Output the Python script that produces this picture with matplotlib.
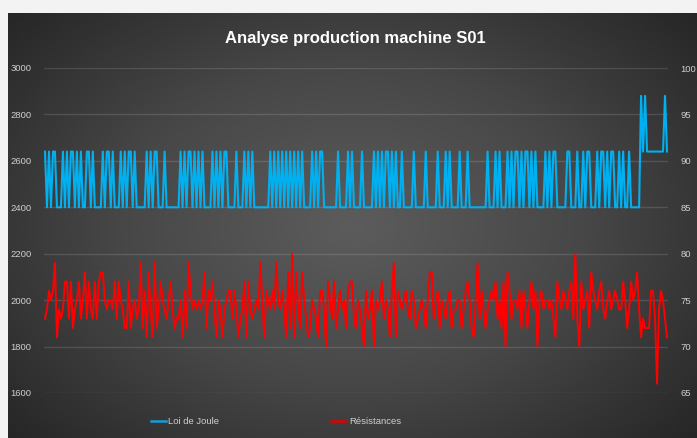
import numpy as np
import matplotlib.pyplot as plt
from matplotlib.colors import LinearSegmentedColormap

# Loi de Joule (left axis), one value per sample
joule = [
    2640, 2400, 2640, 2400, 2640, 2640, 2400, 2400, 2400, 2640, 2400, 2640, 2400,
    2640, 2640, 2400, 2640, 2400, 2640, 2400, 2400, 2640, 2640, 2400, 2640, 2400,
    2400, 2400, 2400, 2640, 2400, 2640, 2640, 2400, 2640, 2400, 2400, 2400, 2640,
    2400, 2640, 2400, 2640, 2640, 2400, 2640, 2400, 2400, 2400, 2400, 2400, 2640,
    2400, 2640, 2400, 2640, 2640, 2400, 2400, 2400, 2640, 2400, 2400, 2400, 2400,
    2400, 2400, 2400, 2640, 2400, 2640, 2400, 2640, 2640, 2400, 2640, 2400, 2640,
    2400, 2640, 2400, 2400, 2400, 2400, 2640, 2400, 2640, 2400, 2640, 2400, 2640,
    2640, 2400, 2400, 2400, 2400, 2640, 2400, 2400, 2400, 2640, 2400, 2640, 2400,
    2640, 2400, 2400, 2400, 2400, 2400, 2400, 2400, 2400, 2640, 2400, 2640, 2400,
    2640, 2400, 2640, 2400, 2640, 2400, 2640, 2400, 2640, 2400, 2640, 2400, 2640,
    2400, 2400, 2400, 2400, 2640, 2400, 2640, 2400, 2640, 2640, 2400, 2400, 2400,
    2400, 2400, 2400, 2400, 2640, 2400, 2400, 2400, 2400, 2640, 2400, 2640, 2400,
    2400, 2400, 2400, 2640, 2400, 2400, 2400, 2400, 2400, 2640, 2400, 2640, 2400,
    2640, 2400, 2640, 2640, 2400, 2640, 2400, 2640, 2400, 2400, 2640, 2400, 2400,
    2400, 2400, 2400, 2640, 2400, 2400, 2400, 2400, 2400, 2640, 2400, 2400, 2400,
    2400, 2400, 2640, 2400, 2400, 2400, 2640, 2400, 2640, 2400, 2400, 2400, 2400,
    2640, 2400, 2400, 2400, 2640, 2400, 2400, 2400, 2400, 2400, 2400, 2400, 2400,
    2400, 2640, 2400, 2400, 2400, 2640, 2400, 2640, 2400, 2400, 2400, 2640, 2400,
    2640, 2400, 2640, 2640, 2400, 2640, 2400, 2640, 2640, 2400, 2640, 2400, 2640,
    2400, 2400, 2400, 2400, 2640, 2400, 2640, 2400, 2640, 2640, 2400, 2400, 2400,
    2400, 2400, 2640, 2640, 2400, 2400, 2400, 2640, 2400, 2400, 2640, 2400, 2640,
    2640, 2400, 2400, 2400, 2640, 2400, 2640, 2640, 2400, 2640, 2400, 2640, 2640,
    2400, 2400, 2640, 2400, 2640, 2400, 2400, 2640, 2400, 2400, 2400, 2400, 2400,
    2880, 2640, 2880, 2640, 2640, 2640, 2640, 2640, 2640, 2640, 2640, 2640, 2880,
    2640,
]

# Résistances (right axis)
resistances = [
    73, 74, 76, 75, 76, 79, 71, 74, 73, 74, 77, 77, 73,
    77, 72, 74, 75, 77, 73, 75, 78, 73, 77, 74, 73, 77,
    73, 77, 78, 78, 75, 74, 75, 75, 74, 77, 73, 77, 75,
    74, 72, 72, 77, 72, 74, 75, 73, 74, 79, 72, 76, 71,
    78, 74, 71, 79, 72, 74, 77, 75, 74, 73, 75, 77, 74,
    72, 73, 73, 75, 71, 76, 72, 79, 76, 74, 75, 74, 75,
    74, 75, 78, 72, 76, 75, 77, 74, 71, 75, 74, 71, 74,
    75, 76, 76, 73, 76, 74, 71, 73, 74, 77, 71, 77, 74,
    73, 74, 75, 74, 79, 75, 71, 76, 75, 74, 76, 74, 79,
    75, 74, 76, 74, 71, 78, 72, 80, 71, 78, 74, 72, 78,
    75, 73, 71, 72, 75, 74, 73, 71, 76, 76, 74, 70, 77,
    75, 73, 77, 72, 74, 76, 74, 75, 72, 76, 77, 77, 73,
    72, 75, 74, 72, 70, 76, 73, 74, 76, 70, 75, 74, 75,
    77, 73, 75, 74, 71, 76, 79, 71, 76, 75, 74, 75, 76,
    74, 73, 76, 75, 72, 73, 74, 75, 74, 72, 75, 78, 78,
    73, 75, 76, 72, 75, 74, 73, 75, 76, 72, 74, 74, 75,
    75, 72, 74, 76, 77, 75, 72, 71, 75, 79, 73, 76, 74,
    72, 74, 75, 76, 75, 77, 73, 75, 72, 77, 70, 78, 76,
    73, 75, 75, 74, 76, 72, 76, 74, 72, 75, 77, 74, 76,
    70, 75, 76, 74, 75, 75, 74, 75, 73, 71, 77, 75, 74,
    76, 75, 74, 76, 77, 73, 80, 73, 70, 77, 74, 75, 76,
    72, 78, 76, 75, 74, 76, 77, 74, 73, 75, 76, 74, 75,
    76, 75, 74, 74, 77, 75, 72, 74, 77, 75, 76, 78, 74,
    71, 73, 72, 72, 72, 76, 76, 73, 66, 74, 76, 75, 73,
    71,
]

left_ticks = [1600, 1800, 2000, 2200, 2400, 2600, 2800, 3000]
right_ticks = [65, 70, 75, 80, 85, 90, 95, 100]

W, H = 697, 438
fig = plt.figure(figsize=(W / 100, H / 100), dpi=100)
fig.patch.set_facecolor('#f3f3f3')

# dark radial background of the chart block
bg = fig.add_axes([8 / W, 0, (W - 8) / W, (H - 13) / H], zorder=0)
yy, xx = np.mgrid[-1:1:220j, -1:1:340j]
rr = np.sqrt((xx * 1.0) ** 2 + (yy * 0.9) ** 2)
cmap = LinearSegmentedColormap.from_list('bg', ['#5c5c5c', '#474747', '#262626'])
bg.imshow(rr, cmap=cmap, vmin=0, vmax=1.35, aspect='auto',
          extent=[0, 1, 0, 1], interpolation='bilinear')
bg.set_axis_off()

ax = fig.add_axes([44 / W, 1 - 393 / H, 624 / W, 325 / H], zorder=1)
ax.patch.set_alpha(0)
ax2 = ax.twinx()

x = np.arange(len(joule))
ax.plot(x, joule, color='#00b0f0', lw=1.5)
ax2.plot(x, resistances, color='#ff0000', lw=1.4)

ax.set_xlim(-0.5, len(joule) - 0.5)
ax.set_ylim(1600, 3000)
ax2.set_ylim(65, 100)
ax.set_yticks(left_ticks)
ax2.set_yticks(right_ticks)
ax.set_xticks([])

font = ['Liberation Sans', 'DejaVu Sans']
for a in (ax, ax2):
    for s in a.spines.values():
        s.set_visible(False)
    a.tick_params(length=0, colors='#d0d0d0', labelsize=6.8)
    for lab in a.get_yticklabels():
        lab.set_family(font)
ax.tick_params(axis='y', pad=9)
ax2.tick_params(axis='y', pad=9)
ax.grid(axis='y', color='#ffffff', alpha=0.13, lw=1)
ax.set_axisbelow(True)

fig.text(355 / W, 1 - 38 / H, 'Analyse production machine S01', color='white',
         fontsize=12, fontweight='bold', ha='center', va='center', family=font)

# legend
fig.lines.append(plt.Line2D([151 / W, 166 / W], [1 - 421 / H] * 2,
                            transform=fig.transFigure, color='#1a9ad6', lw=1.8))
fig.text(168 / W, 1 - 421 / H, 'Loi de Joule', color='#d0d0d0', fontsize=6.8,
         va='center', family=font)
fig.lines.append(plt.Line2D([331 / W, 346 / W], [1 - 421 / H] * 2,
                            transform=fig.transFigure, color='#e00000', lw=1.8))
fig.text(349 / W, 1 - 421 / H, 'Résistances', color='#d0d0d0', fontsize=6.8,
         va='center', family=font)

fig.savefig('out.png', dpi=100, facecolor=fig.get_facecolor())
